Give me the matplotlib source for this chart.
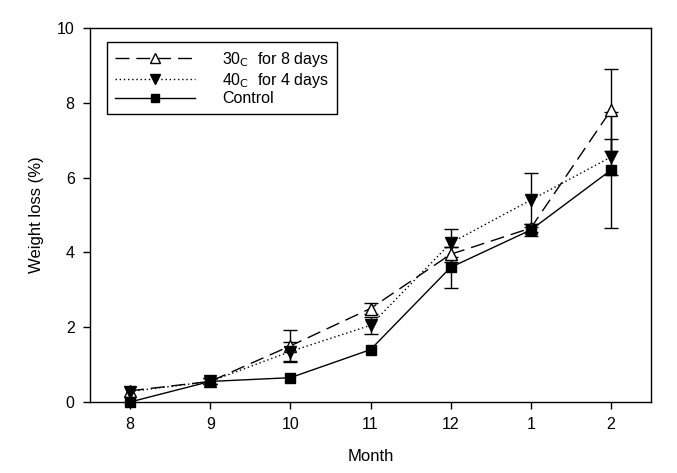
import matplotlib
matplotlib.use("Agg")
import matplotlib.pyplot as plt
from matplotlib.lines import Line2D
import numpy as np

# ── Data ──────────────────────────────────────────────────────────────────────
months = ["8", "9", "10", "11", "12", "1", "2"]

t30_mean = [0.30, 0.55, 1.50, 2.50, 3.95, 4.65, 7.80]
t30_err  = [np.nan, 0.08, 0.43, 0.15, 0.20, 0.10, 1.10]

t40_mean = [0.28, 0.55, 1.35, 2.05, 4.25, 5.40, 6.55]
t40_err  = [np.nan, 0.08, 0.25, 0.23, 0.38, 0.72, 0.48]

ctrl_mean = [0.00, 0.55, 0.65, 1.40, 3.60, 4.60, 6.20]
ctrl_err  = [np.nan, 0.08, np.nan, np.nan, 0.55, 0.15, 1.55]

labels = ["30$_{\\mathrm{C}}$  for 8 days", "40$_{\\mathrm{C}}$  for 4 days", "Control"]

plt.rcParams.update({
    "font.family": ["Liberation Sans", "DejaVu Sans"],
    "font.size": 11,
})

fig = plt.figure(figsize=(6.77, 4.73), dpi=100)
ax = fig.add_axes([90 / 677, 1 - 402 / 473, 561 / 677, 374 / 473])

x = np.arange(len(months))
common = dict(color="black", lw=1.0, capsize=5, elinewidth=1.0,
              capthick=1.0, clip_on=False, markeredgecolor="black")

dash30 = (0, (10, 5))
dot40 = (0, (1, 2))

ax.errorbar(x, t30_mean, yerr=t30_err, ls=dash30, marker="^", ms=8,
            markerfacecolor="white", **common)
ax.errorbar(x, t40_mean, yerr=t40_err, ls=dot40, marker="v", ms=8,
            markerfacecolor="black", **common)
ax.errorbar(x, ctrl_mean, yerr=ctrl_err, ls="-", marker="s", ms=7,
            markerfacecolor="black", **common)

ax.set_xlim(-0.5, 6.5)
ax.set_ylim(0, 10)
ax.set_xticks(x)
ax.set_xticklabels(months)
ax.set_yticks([0, 2, 4, 6, 8, 10])
ax.tick_params(direction="out", length=5, width=1, labelsize=11.5, pad=6)
for s in ax.spines.values():
    s.set_linewidth(1.0)

ax.set_xlabel("Month", fontsize=12, labelpad=12)
ax.set_ylabel("Weight loss (%)", fontsize=12, labelpad=9)

handles = [
    Line2D([], [], color="black", lw=1, ls=dash30, marker="^", ms=7,
           markerfacecolor="white", markeredgecolor="black"),
    Line2D([], [], color="black", lw=1, ls=dot40, marker="v", ms=7,
           markerfacecolor="black", markeredgecolor="black"),
    Line2D([], [], color="black", lw=1, ls="-", marker="s", ms=6,
           markerfacecolor="black", markeredgecolor="black"),
]
leg = ax.legend(handles, labels, loc="upper left",
                bbox_to_anchor=((107 - 90) / 561, (402 - 42) / 374),
                borderaxespad=0, fontsize=11.5,
                handlelength=5.0, handletextpad=1.7, labelspacing=0.1,
                borderpad=0.5, fancybox=False, frameon=True, framealpha=1,
                edgecolor="black")
leg.get_frame().set_linewidth(1.0)

fig.savefig("out.png", dpi=100)
